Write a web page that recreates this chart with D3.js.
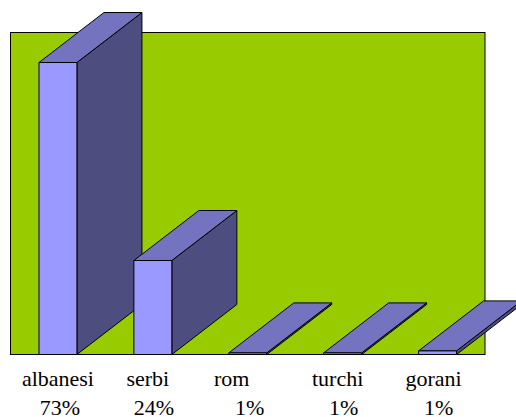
<!DOCTYPE html>
<html>
<head>
<meta charset="utf-8">
<script src="https://cdn.jsdelivr.net/npm/d3@7"></script>
<style>
  html, body { margin: 0; padding: 0; background: #fff; overflow: hidden; }
  svg { display: block; }
  text { font-family: "Liberation Serif", serif; font-size: 22px; fill: #000; }
</style>
</head>
<body>
<script>
var categories = ['albanesi', 'serbi', 'rom', 'turchi', 'gorani'];
var percentLabels = ['73%', '24%', '1%', '1%', '1%'];
// bar heights as drawn, these differ a little from the printed labels
var barValues = [73, 23.5, 0.4, 0.4, 0.9];

var width = 516;
var height = 417;

var svg = d3.select('body')
  .append('svg')
  .attr('width', width)
  .attr('height', height);

var x = d3.scaleBand()
  .domain(categories)
  .range([10.5, 485])
  .paddingInner(0.6)
  .paddingOuter(0.3);

var y = d3.scaleLinear()
  .domain([0, 80.5])
  .range([354.5, 32.5]);

//depth of the fake 3d
var dx = 65;
var dy = -50;

svg.append('rect')
  .attr('x', x.range()[0])
  .attr('y', y.range()[1])
  .attr('width', x.range()[1] - x.range()[0])
  .attr('height', y.range()[0] - y.range()[1])
  .attr('fill', '#99cc00')
  .attr('stroke', '#000')
  .attr('stroke-width', 1);

var bars = svg.selectAll('.bar')
  .data(categories)
  .enter()
  .append('g')
  .attr('class', 'bar')
  .attr('stroke', '#000')
  .attr('stroke-width', 1)
  .attr('stroke-linejoin', 'round');

function barLeft(d) { return x(d); }
function barRight(d) { return x(d) + x.bandwidth(); }
function barTop(d, i) { return y(barValues[i]); }

//right side
bars.append('path')
  .attr('fill', '#4d4d80')
  .attr('d', function(d, i) {
    return d3.line()([
      [barRight(d), barTop(d, i)],
      [barRight(d) + dx, barTop(d, i) + dy],
      [barRight(d) + dx, y(0) + dy],
      [barRight(d), y(0)]
    ]) + 'Z';
  });

//top
bars.append('path')
  .attr('fill', '#7373bf')
  .attr('d', function(d, i) {
    return d3.line()([
      [barLeft(d), barTop(d, i)],
      [barLeft(d) + dx, barTop(d, i) + dy],
      [barRight(d) + dx, barTop(d, i) + dy],
      [barRight(d), barTop(d, i)]
    ]) + 'Z';
  });

//front
bars.append('rect')
  .attr('fill', '#9999ff')
  .attr('x', barLeft)
  .attr('y', barTop)
  .attr('width', x.bandwidth())
  .attr('height', function(d, i) { return y(0) - barTop(d, i); });

//labels do not sit exactly under the bars in the original
var nameShift = [0, -5, -16, -5, -4];
var pctShift = [2, 1, 2, 1, 1];

svg.selectAll('.name')
  .data(categories)
  .enter()
  .append('text')
  .attr('class', 'name')
  .attr('text-anchor', 'middle')
  .attr('x', function(d, i) { return x(d) + x.bandwidth() / 2 + nameShift[i]; })
  .attr('y', 386)
  .text(function(d) { return d; });

svg.selectAll('.pct')
  .data(percentLabels)
  .enter()
  .append('text')
  .attr('class', 'pct')
  .attr('text-anchor', 'middle')
  .attr('x', function(d, i) { return x(categories[i]) + x.bandwidth() / 2 + pctShift[i]; })
  .attr('y', 415)
  .text(function(d) { return d; });
</script>
</body>
</html>
